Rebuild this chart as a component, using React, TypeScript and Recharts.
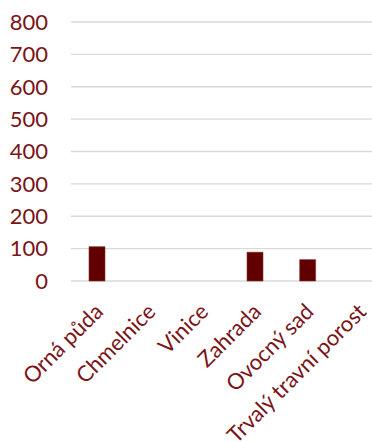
import React from "react";
import { Bar, BarChart, CartesianGrid, XAxis, YAxis } from "recharts";

const categories = [
  "Orná půda",
  "Chmelnice",
  "Vinice",
  "Zahrada",
  "Ovocný sad",
  "Trvalý travní porost",
];
const values = [106, 0, 0, 89, 66, 0];
const yTicks = [0, 100, 200, 300, 400, 500, 600, 700, 800];

const data = categories.map((name, i) => ({ name, value: values[i] }));

const TEXT = "#7a1418";
const BAR = "#600000";
const FONT = "Lato, 'Liberation Sans', sans-serif";

const App = () => {
  return (
    <div
      style={{
        position: "absolute",
        left: 0,
        top: 0,
        width: 372,
        height: 442,
        overflow: "hidden",
        background: "#fff",
      }}
    >
      <BarChart
        width={387}
        height={442}
        data={data}
        margin={{ top: 22, right: 0, left: 0, bottom: 0 }}
        barSize={16}
      >
        <CartesianGrid vertical={false} stroke="#d9d9d9" strokeWidth={1.3} />
        <XAxis
          dataKey="name"
          interval={0}
          height={161}
          axisLine={false}
          tickLine={false}
          tickSize={0}
          tickMargin={21}
          angle={-45}
          textAnchor="end"
          tick={{ fill: TEXT, fontSize: 22, fontFamily: FONT, dx: -4 }}
        />
        <YAxis
          width={71}
          domain={[0, 800]}
          ticks={yTicks}
          axisLine={false}
          tickLine={false}
          tickSize={0}
          tickMargin={23}
          tick={{ fill: TEXT, fontSize: 22, fontFamily: FONT }}
        />
        <Bar
          dataKey="value"
          fill={BAR}
          stroke="#8a3030"
          strokeWidth={0.6}
          isAnimationActive={false}
        />
      </BarChart>
    </div>
  );
};

export default App;
